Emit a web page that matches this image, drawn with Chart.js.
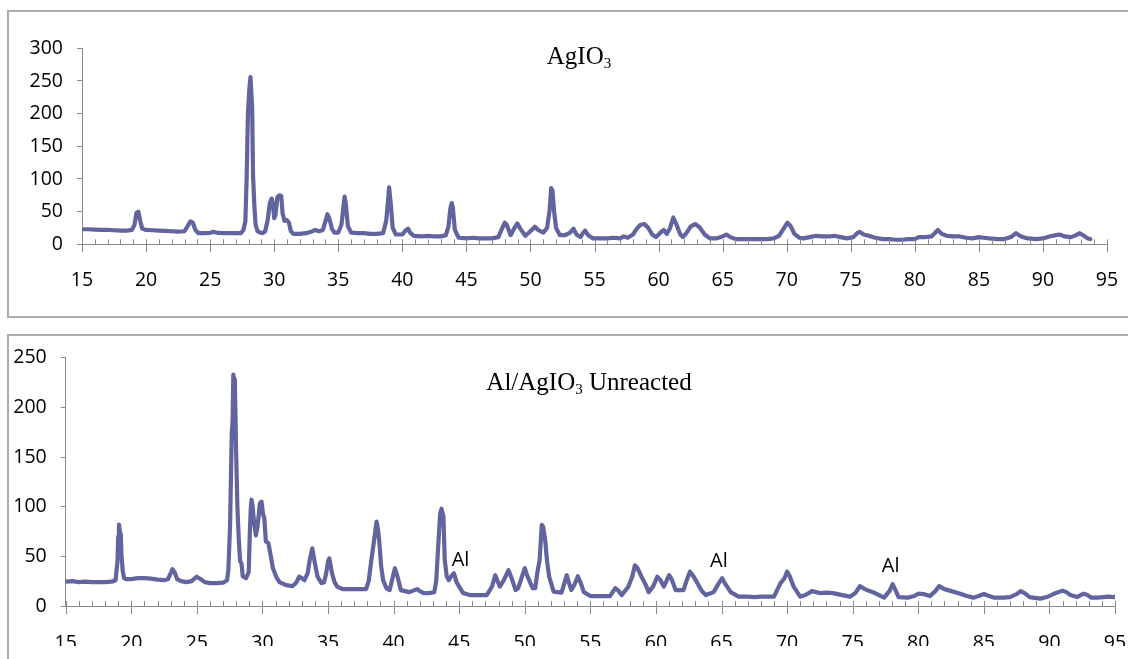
<!DOCTYPE html>
<html><head><meta charset="utf-8">
<script src="https://cdn.jsdelivr.net/npm/chart.js@4.4.1/dist/chart.umd.min.js"></script>
<style>
html,body{margin:0;padding:0;background:#fff;width:1128px;height:659px;overflow:hidden;position:relative;}
.box{position:absolute;border:2px solid #ababab;box-sizing:border-box;}
canvas{position:absolute;left:0;}
</style></head><body>
<div class="box" style="left:7px;top:10px;width:1140px;height:308px"></div>
<div class="box" style="left:7px;top:334px;width:1140px;height:340px"></div>
<canvas id="c1" width="1128" height="330" style="top:0"></canvas>
<canvas id="c2" width="1128" height="329" style="top:330px"></canvas>
<script>
// ---- data (2-theta angle, intensity) ----
const agio3Angle = [15.0,15.5,16.0,16.5,17.0,17.5,18.0,18.5,18.9,19.1,19.25,19.4,19.55,19.7,20.0,20.5,21.0,21.5,22.0,22.5,23.0,23.25,23.45,23.65,23.85,24.1,24.5,25.0,25.2,25.5,26.0,26.5,27.0,27.4,27.6,27.75,27.85,27.95,28.05,28.15,28.22,28.28,28.35,28.45,28.55,28.7,28.9,29.1,29.3,29.5,29.65,29.8,29.9,30.0,30.1,30.25,30.4,30.55,30.65,30.8,31.0,31.15,31.3,31.5,32.0,32.5,33.0,33.2,33.5,33.8,34.0,34.15,34.3,34.5,34.7,35.0,35.25,35.4,35.5,35.6,35.75,36.0,36.5,37.0,37.5,38.0,38.5,38.75,38.9,38.97,39.1,39.25,39.5,40.0,40.3,40.45,40.6,40.9,41.5,42.0,42.5,43.0,43.4,43.6,43.75,43.86,43.95,44.1,44.4,45.0,45.5,46.0,46.5,47.0,47.5,47.8,48.0,48.15,48.45,48.75,48.98,49.2,49.6,50.0,50.35,50.6,51.0,51.3,51.5,51.62,51.72,51.85,52.0,52.3,52.7,53.1,53.36,53.6,53.9,54.1,54.27,54.5,54.9,55.5,56.0,56.5,57.0,57.3,57.6,58.0,58.3,58.6,58.9,59.2,59.5,59.8,60.1,60.4,60.65,60.9,61.15,61.4,61.7,61.9,62.2,62.5,62.85,63.2,63.6,64.0,64.5,65.0,65.3,65.6,66.0,66.5,67.0,67.5,68.0,68.5,69.0,69.4,69.8,70.06,70.3,70.6,71.0,71.3,71.8,72.3,72.8,73.3,73.7,74.2,74.7,75.2,75.5,75.7,76.0,76.4,76.9,77.5,78.0,78.5,79.0,79.5,80.0,80.3,80.8,81.3,81.8,82.1,82.5,83.0,83.5,84.0,84.5,85.0,85.4,85.8,86.5,87.0,87.5,87.9,88.3,88.8,89.5,90.0,90.5,91.0,91.3,91.7,92.2,92.6,92.87,93.2,93.5,93.7];
const agio3Intensity = [23,23,22.5,22,22,21.5,21,21,22,30,48,50,35,24,22,21.5,21,20.5,20,19.5,20,28,35,33,22,17,17,17.5,19,18,17,17,17,17,22,35,100,200,235,256,230,210,105,60,30,20,18,17,20,38,62,70,62,40,45,72,75,74,48,36,37,33,20,16,16,17,20,22,20,22,35,46,40,24,18,18,30,57,73,60,28,18,17,17,16,16,17,37,70,87,62,25,15,15,22,24,18,13,12,13,12,12,14,27,55,63,55,22,10,9,10,9,9,9,11,25,33,30,14,25,32,24,13,20,27,22,18,25,53,86,82,50,25,14,14,18,24,15,11,17,21,14,9,9,9,10,9,12,10,15,24,30,31,25,15,11,17,22,16,25,41,30,15,11,18,27,31,26,15,9,9,12,15,11,8,8,8,8,8,8,9,13,25,33,28,16,10,9,11,13,12,12,13,11,9,11,17,19,15,13,10,8,8,7,7,8,8,11,11,12,22,16,13,12,12,10,9,11,10,9,8,8,11,17,12,9,8,9,12,14,15,12,11,14,17,13,9,8];

const unreactedAngle = [15.0,15.5,16.0,16.5,17.0,17.5,18.0,18.5,18.8,18.95,19.0,19.06,19.13,19.2,19.25,19.35,19.45,19.6,20.0,20.5,21.0,21.5,22.0,22.5,22.8,23.0,23.13,23.3,23.5,23.8,24.2,24.6,24.98,25.3,25.6,26.0,26.5,27.0,27.3,27.4,27.53,27.66,27.72,27.78,27.85,27.9,27.99,28.09,28.2,28.3,28.4,28.5,28.75,28.95,29.05,29.12,29.17,29.25,29.37,29.5,29.6,29.7,29.8,29.93,30.05,30.14,30.26,30.46,30.64,30.8,30.95,31.1,31.3,31.8,32.3,32.6,32.8,33.0,33.2,33.45,33.6,33.8,34.0,34.2,34.5,34.7,34.86,35.0,35.1,35.3,35.5,35.7,36.1,36.5,37.0,37.5,37.9,38.1,38.3,38.45,38.55,38.7,38.8,38.9,39.05,39.2,39.45,39.7,39.95,40.1,40.3,40.55,41.2,41.6,41.8,42.0,42.3,42.7,43.1,43.25,43.4,43.55,43.65,43.8,43.9,44.05,44.2,44.4,44.6,44.8,45.0,45.3,45.8,46.5,47.1,47.5,47.75,47.9,48.1,48.4,48.76,49.0,49.3,49.5,49.8,50.0,50.2,50.6,50.8,50.95,51.13,51.3,51.4,51.56,51.7,51.86,52.2,52.8,53.0,53.2,53.4,53.55,53.8,54.05,54.3,54.5,55.0,55.5,56.0,56.5,56.9,57.1,57.4,57.9,58.2,58.4,58.6,58.9,59.2,59.45,59.8,60.1,60.35,60.6,60.8,61.0,61.2,61.5,62.1,62.4,62.6,62.85,63.1,63.5,63.8,64.4,64.75,65.05,65.3,65.7,66.3,67.0,67.5,68.0,68.5,69.0,69.5,69.8,70.0,70.2,70.5,71.0,71.4,71.9,72.5,73.0,73.5,74.2,74.8,75.2,75.55,75.8,76.1,76.7,77.4,77.8,78.05,78.3,78.5,79.2,79.7,80.0,80.4,80.9,81.3,81.6,82.0,82.4,83.2,83.7,84.2,84.6,85.0,85.4,85.8,86.5,87.0,87.5,87.8,88.1,88.5,89.3,89.8,90.3,91.0,91.3,91.6,92.1,92.6,92.9,93.2,93.7,94.1,94.5,95.0];
const unreactedIntensity = [24.5,25,24,24.5,24,24,24,24.5,26,45,70,82,75,72,52,35,28,27,27,28,28,27.5,26.5,26,27,33,37,34,27,25,24,25,29.5,27,24,23,23,23.5,26,36,80,174,185,233,228,224,157,100,66,45,43,30,28,34,79,100,107,100,83,71,78,89,103,105,92,89,65,63,50,38,33,28,24,21,20,24,29.5,28,26,33,46,58,43,29.5,23,24,33,45,48,33,24,19.5,17,17,17,17,17,25,46,60,70,85,78,66,40,26,18,16,30,38,29.5,16,14,16,17,15,13,13,14,25,60,93,98,90,46,30,26,30,33,24,19.5,13,11,11,11,19.5,31,26,19.5,26,36,28,16,18,30,38,30,18,18,33,46,81.6,80,66,45,29.5,14.4,13.4,22,31,22,16,22,30,22,14,10,10,10,10,18,16,11,19.5,30,41,38,29.5,22,14,20,29.5,26,19.5,25,31,27,16,16,28,34.6,30,24.5,15,11,14,22,28,22,14,9.4,9.4,9,9.4,9.4,9.4,23,28,34.6,30,19.5,9.4,11,15,13,13.5,13,11,9.4,13,20,18,16,13,8.4,15,22,15,9,8.4,10,12.4,12,10,15,20,17,15.5,12.4,10,8.4,10,12,10,8.4,8.5,9,12,15,13,9,7.4,9,12,15.5,14,11,9,12.4,11,8.4,8.5,9,9.5,9];

// tick labels
const xTickValues = [15,20,25,30,35,40,45,50,55,60,65,70,75,80,85,90,95];
const topYTickValues = [0,50,100,150,200,250,300];
const bottomYTickValues = [0,50,100,150,200,250];

// peak annotations (bottom chart)
const alLabelText = ['Al','Al','Al'];
const alLabelAngle = [45.1,64.8,77.9];
const alLabelIntensity = [46,45,40];

const LINE_COLOR = '#62649f';
const AXIS_COLOR = '#8a8a8a';
const TICK_FONT = {family:"'Open Sans', sans-serif", size:19.5};

const decorPlugin = {
  id:'decor',
  afterDatasetsDraw(chart, args, opts){
    const ctx = chart.ctx;
    const xs = chart.scales.x;
    const bottom = chart.chartArea.bottom;
    ctx.save();
    ctx.strokeStyle = AXIS_COLOR;
    ctx.lineWidth = 1;
    for(let v=15; v<=95; v++){
      const px = Math.round(xs.getPixelForValue(v))+0.5;
      ctx.beginPath();
      if(v%5===0){ ctx.moveTo(px,bottom-5); ctx.lineTo(px,bottom+8); }
      else { ctx.moveTo(px,bottom-5); ctx.lineTo(px,bottom); }
      ctx.stroke();
    }
    // title with subscript
    ctx.fillStyle = '#000';
    ctx.textBaseline = 'alphabetic';
    ctx.textAlign = 'left';
    const big = "25px 'Liberation Serif', 'Times New Roman', serif";
    const small = "15px 'Liberation Serif', 'Times New Roman', serif";
    let total = 0;
    const widths = opts.title.map(p=>{ ctx.font = p.sub?small:big; const w = ctx.measureText(p.text).width; total += w; return w; });
    let x = opts.titleX - total/2;
    opts.title.forEach((p,i)=>{
      ctx.font = p.sub?small:big;
      ctx.fillText(p.text, x, opts.titleBaseline + (p.sub?4:0));
      x += widths[i];
    });
    // annotations
    if(opts.labels){
      const ys = chart.scales.y;
      ctx.font = "20px 'Open Sans', sans-serif";
      ctx.textAlign = 'center';
      ctx.textBaseline = 'middle';
      opts.labels.text.forEach((t,i)=>{
        ctx.fillText(t, xs.getPixelForValue(opts.labels.x[i]), ys.getPixelForValue(opts.labels.y[i]));
      });
    }
    ctx.restore();
  }
};

function makeChart(id, angles, intens, yTicks, lay, decor){
  return new Chart(document.getElementById(id), {
    type:'line',
    data:{datasets:[{
      data: angles.map((a,i)=>({x:a,y:intens[i]})),
      borderColor: LINE_COLOR,
      borderWidth: 4.2,
      pointRadius: 0,
      tension: 0,
      fill: false,
      borderJoinStyle:'round',
      borderCapStyle:'round'
    }]},
    options:{
      responsive:false,
      animation:false,
      devicePixelRatio:1,
      events:[],
      layout:{padding:{left:0, top:lay.top, right:lay.right, bottom:lay.bottom}},
      plugins:{legend:{display:false}, tooltip:{enabled:false}, title:{display:false}, decor:decor},
      scales:{
        x:{
          type:'linear', min:15, max:95,
          afterBuildTicks: s=>{ s.ticks = xTickValues.map(v=>({value:v})); },
          afterFit: s=>{ s.height = lay.xHeight; },
          grid:{display:true, drawOnChartArea:false, drawTicks:true, tickLength:lay.xPad, tickColor:'rgba(0,0,0,0)'},
          border:{display:true, color:AXIS_COLOR, width:1},
          ticks:{color:'#000', font:TICK_FONT, padding:0, maxRotation:0, autoSkip:false}
        },
        y:{
          type:'linear', min:0, max:yTicks[yTicks.length-1],
          afterBuildTicks: s=>{ s.ticks = yTicks.map(v=>({value:v})); },
          afterFit: s=>{ s.width = lay.yWidth; },
          grid:{display:true, drawOnChartArea:false, drawTicks:true, tickLength:5, tickColor:AXIS_COLOR},
          border:{display:true, color:AXIS_COLOR, width:1},
          ticks:{color:'#000', font:TICK_FONT, padding:14, autoSkip:false}
        }
      }
    },
    plugins:[decorPlugin]
  });
}

makeChart('c1', agio3Angle, agio3Intensity, topYTickValues,
  {top:48.3, right:21, bottom:35.7, xHeight:50, yWidth:82, xPad:24.5},
  {title:[{text:'AgIO'},{text:'3',sub:true}], titleX:579, titleBaseline:63.5});

makeChart('c2', unreactedAngle, unreactedIntensity, bottomYTickValues,
  {top:27.7, right:13, bottom:13, xHeight:40, yWidth:65.7, xPad:26},
  {title:[{text:'Al/AgIO'},{text:'3',sub:true},{text:' Unreacted'}], titleX:589, titleBaseline:60,
   labels:{text:alLabelText, x:alLabelAngle, y:alLabelIntensity}});
</script>
</body></html>
